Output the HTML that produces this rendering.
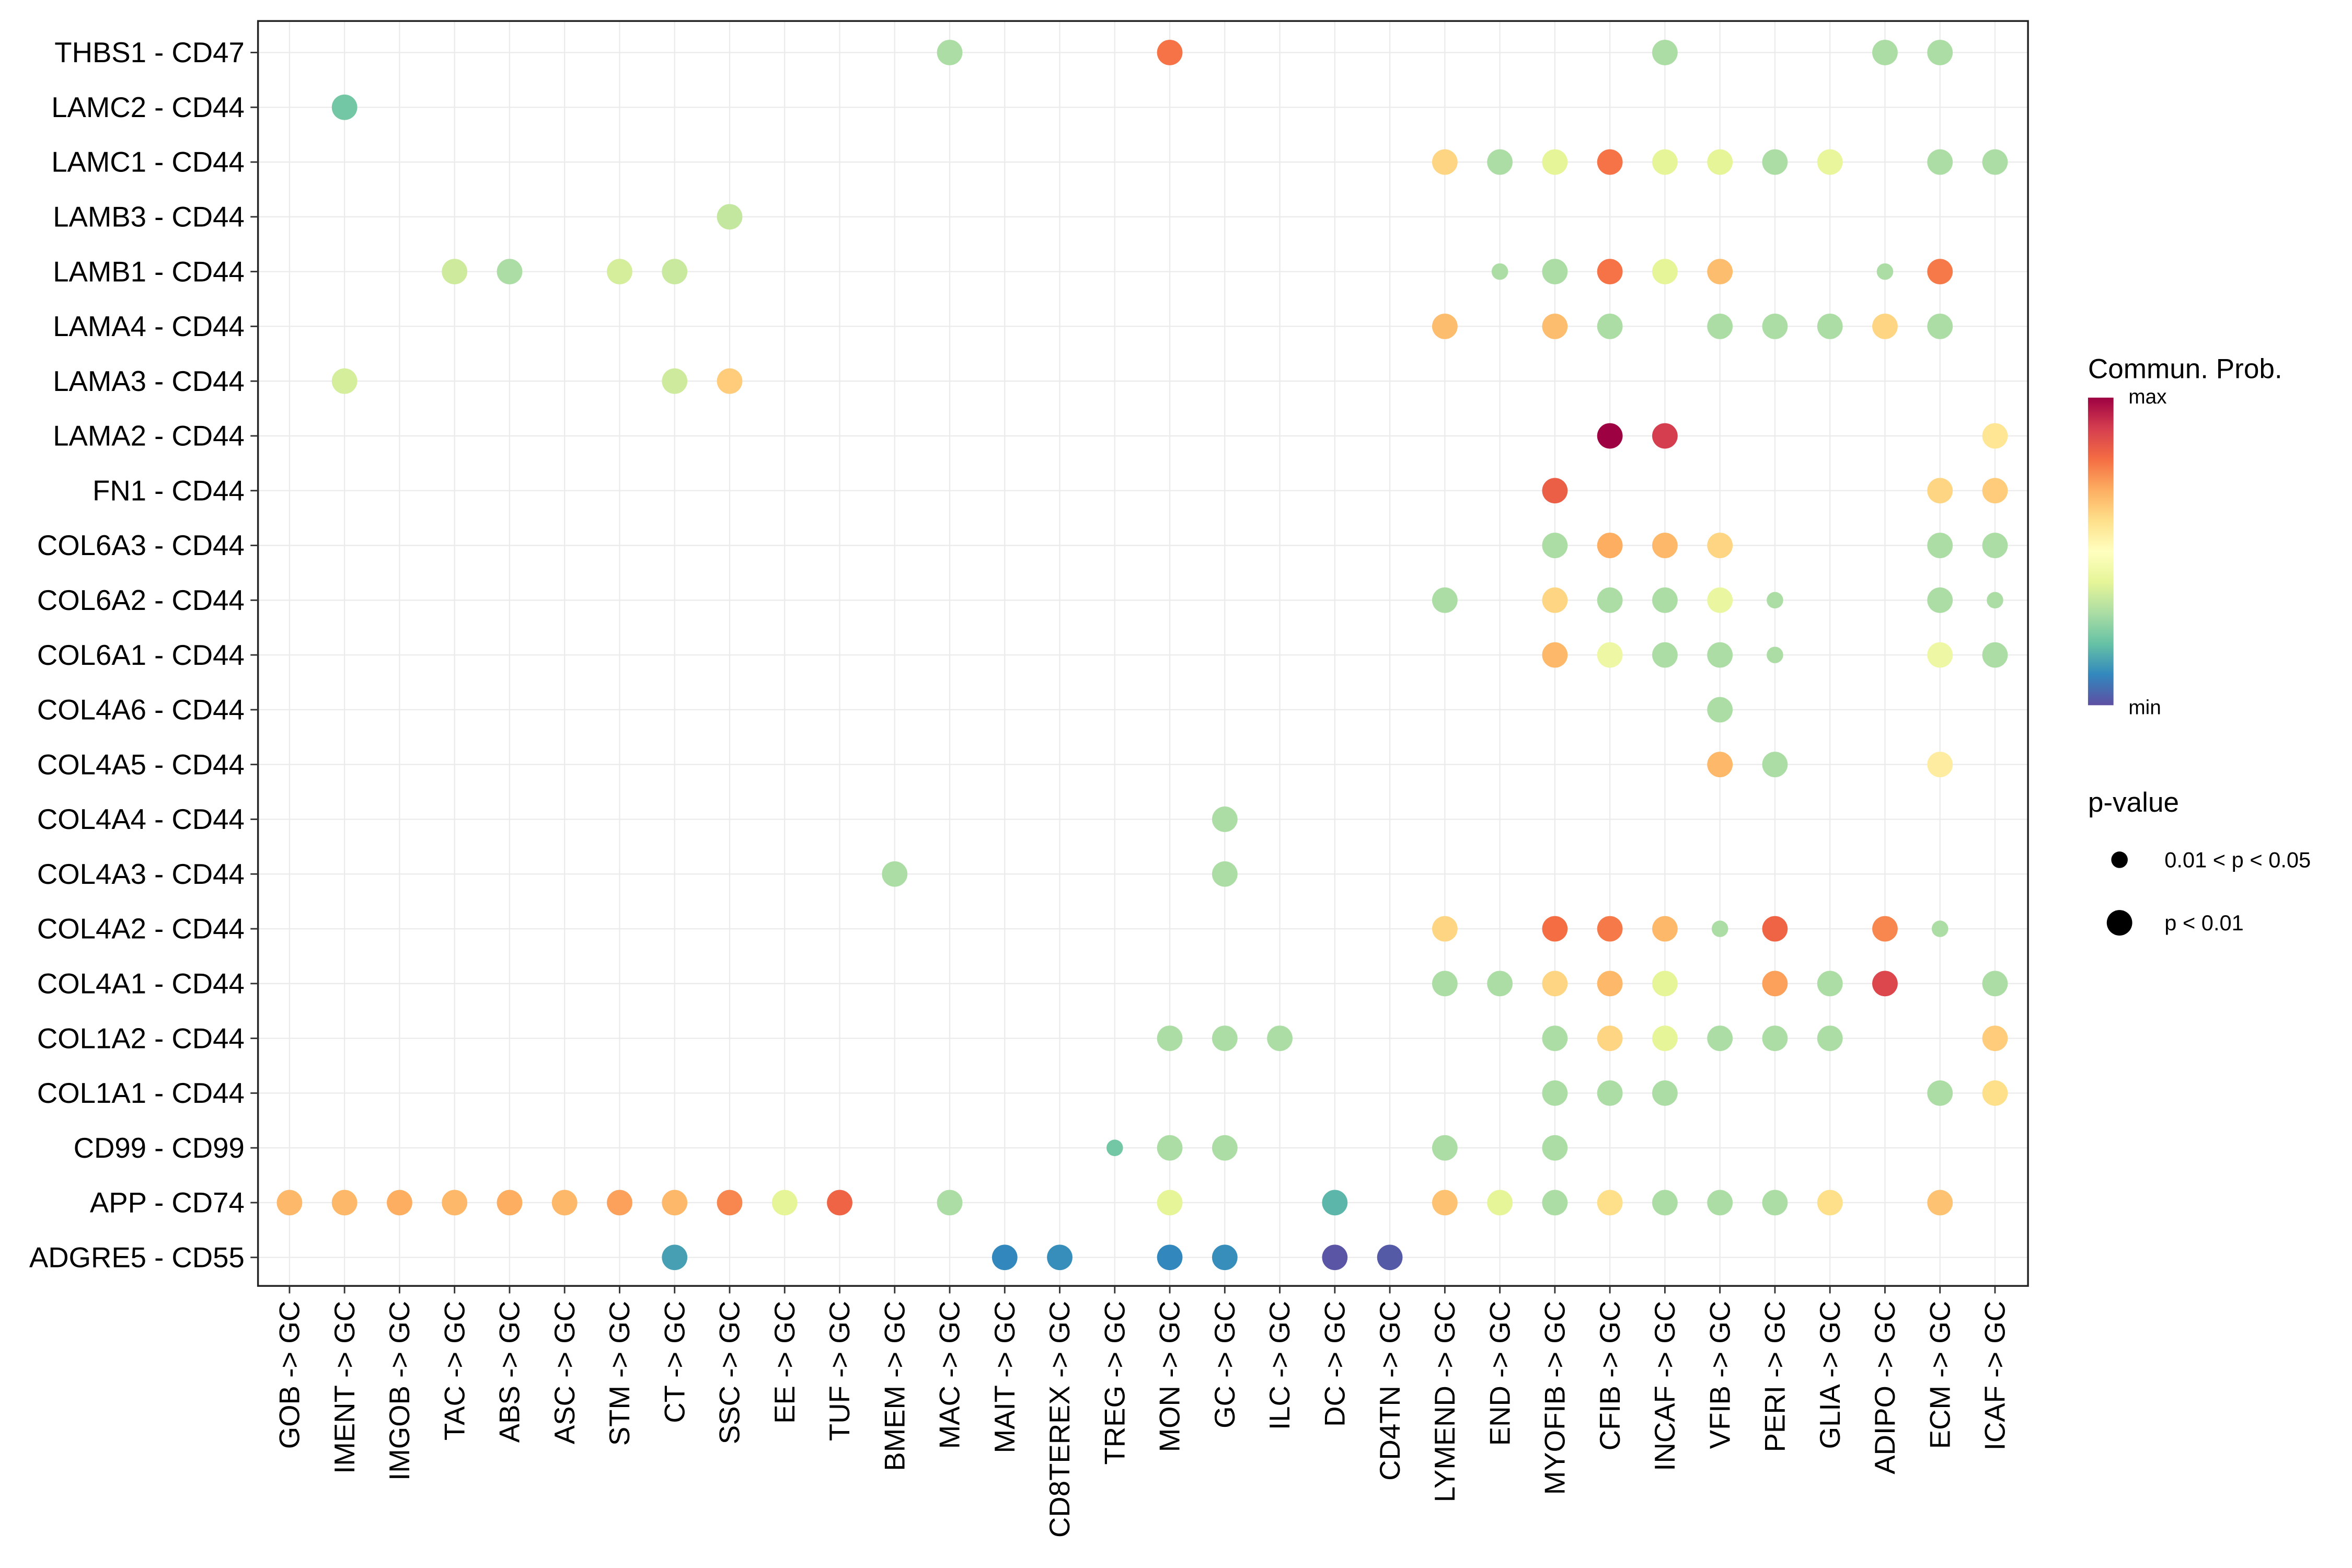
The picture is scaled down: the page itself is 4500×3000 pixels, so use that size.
<!DOCTYPE html>
<html><head><meta charset="utf-8"><style>
html,body{margin:0;padding:0;background:#fff;}
svg{display:block;font-family:"Liberation Sans",Arial,sans-serif;}
</style></head><body>
<svg id="chart" width="4500" height="3000" viewBox="0 0 1568 1045" preserveAspectRatio="none" xmlns="http://www.w3.org/2000/svg">
<defs>
<linearGradient id="cbar" x1="0" y1="1" x2="0" y2="0">
<stop offset="0" stop-color="#5e4fa2"/><stop offset="0.1" stop-color="#3288bd"/><stop offset="0.2" stop-color="#66c2a5"/><stop offset="0.3" stop-color="#abdda4"/><stop offset="0.4" stop-color="#e6f598"/><stop offset="0.5" stop-color="#ffffbf"/><stop offset="0.6" stop-color="#fee08b"/><stop offset="0.7" stop-color="#fdae61"/><stop offset="0.8" stop-color="#f46d43"/><stop offset="0.9" stop-color="#d53e4f"/><stop offset="1" stop-color="#9e0142"/>
</linearGradient>
</defs>
<rect x="0" y="0" width="1568" height="1045" fill="#fff"/>
<g id="grid"></g>
<g id="points"></g>
<rect x="172" y="14" width="1180" height="843" fill="none" stroke="#222" stroke-width="1.2"/>
<g id="yaxis"></g>
<g id="xaxis"></g>
<g>
<text x="1392" y="252" font-size="18.5" fill="#000">Commun. Prob.</text>
<rect x="1392" y="265" width="17" height="205" fill="url(#cbar)"/>
<text x="1419" y="269" font-size="13.5">max</text>
<text x="1419" y="476" font-size="13.5">min</text>
</g>
<g>
<text x="1392" y="541" font-size="18.5">p-value</text>
<circle cx="1413" cy="573" r="5.5" fill="#000"/>
<text x="1443" y="578" font-size="14.5">0.01 &lt; p &lt; 0.05</text>
<circle cx="1413" cy="615" r="8.5" fill="#000"/>
<text x="1443" y="620" font-size="14.5">p &lt; 0.01</text>
</g>
</svg>
<script>
const rows = ["THBS1 - CD47","LAMC2 - CD44","LAMC1 - CD44","LAMB3 - CD44","LAMB1 - CD44","LAMA4 - CD44","LAMA3 - CD44","LAMA2 - CD44","FN1 - CD44","COL6A3 - CD44","COL6A2 - CD44","COL6A1 - CD44","COL4A6 - CD44","COL4A5 - CD44","COL4A4 - CD44","COL4A3 - CD44","COL4A2 - CD44","COL4A1 - CD44","COL1A2 - CD44","COL1A1 - CD44","CD99 - CD99","APP - CD74","ADGRE5 - CD55"];
const cols = ["GOB","IMENT","IMGOB","TAC","ABS","ASC","STM","CT","SSC","EE","TUF","BMEM","MAC","MAIT","CD8TEREX","TREG","MON","GC","ILC","DC","CD4TN","LYMEND","END","MYOFIB","CFIB","INCAF","VFIB","PERI","GLIA","ADIPO","ECM","ICAF"];
// each point: [rowIndex, colIndex, prob (0=min..1=max), significant(1 = p<0.01)]
const pointRow = [0,0,0,0,0, 1, 2,2,2,2,2,2,2,2,2,2, 3, 4,4,4,4,4,4,4,4,4,4,4, 5,5,5,5,5,5,5,5, 6,6,6, 7,7,7, 8,8,8, 9,9,9,9,9,9, 10,10,10,10,10,10,10,10, 11,11,11,11,11,11,11, 12, 13,13,13, 14, 15,15, 16,16,16,16,16,16,16,16, 17,17,17,17,17,17,17,17,17, 18,18,18,18,18,18,18,18,18,18, 19,19,19,19,19, 20,20,20,20,20, 21,21,21,21,21,21,21,21,21,21,21,21,21,21,21,21,21,21,21,21,21,21,21, 22,22,22,22,22,22,22];
const pointCol = [12,16,25,29,30, 1, 21,22,23,24,25,26,27,28,30,31, 8, 3,4,6,7,22,23,24,25,26,29,30, 21,23,24,26,27,28,29,30, 1,7,8, 24,25,31, 23,30,31, 23,24,25,26,30,31, 21,23,24,25,26,27,30,31, 23,24,25,26,27,30,31, 26, 26,27,30, 17, 11,17, 21,23,24,25,26,27,29,30, 21,22,23,24,25,27,28,29,31, 16,17,18,23,24,25,26,27,28,31, 23,24,25,30,31, 15,16,17,21,23, 0,1,2,3,4,5,6,7,8,9,10,12,16,19,21,22,23,24,25,26,27,28,30, 7,13,14,16,17,19,20];
const pointProb = [0.3,0.79,0.3,0.3,0.3, 0.22, 0.62,0.3,0.4,0.79,0.4,0.4,0.3,0.41,0.3,0.3, 0.34, 0.36,0.3,0.37,0.35,0.3,0.3,0.79,0.4,0.67,0.3,0.78, 0.67,0.67,0.3,0.3,0.3,0.3,0.62,0.3, 0.37,0.36,0.64, 1.0,0.9,0.58, 0.83,0.62,0.64, 0.3,0.7,0.68,0.62,0.3,0.3, 0.3,0.62,0.3,0.3,0.42,0.3,0.3,0.3, 0.68,0.43,0.3,0.3,0.3,0.43,0.3, 0.3, 0.68,0.3,0.56, 0.3, 0.3,0.3, 0.62,0.8,0.78,0.68,0.3,0.82,0.76,0.3, 0.3,0.3,0.62,0.68,0.4,0.72,0.3,0.88,0.3, 0.3,0.3,0.3,0.3,0.62,0.4,0.3,0.3,0.3,0.64, 0.3,0.3,0.3,0.3,0.6, 0.22,0.3,0.3,0.3,0.3, 0.68,0.68,0.7,0.68,0.7,0.68,0.72,0.68,0.76,0.4,0.82,0.3,0.4,0.18,0.66,0.4,0.3,0.6,0.3,0.3,0.3,0.6,0.66, 0.14,0.1,0.11,0.1,0.11,0.01,0.02];
const pointSig = [1,1,1,1,1, 1, 1,1,1,1,1,1,1,1,1,1, 1, 1,1,1,1,0,1,1,1,1,0,1, 1,1,1,1,1,1,1,1, 1,1,1, 1,1,1, 1,1,1, 1,1,1,1,1,1, 1,1,1,1,1,0,1,0, 1,1,1,1,0,1,1, 1, 1,1,1, 1, 1,1, 1,1,1,1,0,1,1,0, 1,1,1,1,1,1,1,1,1, 1,1,1,1,1,1,1,1,1,1, 1,1,1,1,1, 0,1,1,1,1, 1,1,1,1,1,1,1,1,1,1,1,1,1,1,1,1,1,1,1,1,1,1,1, 1,1,1,1,1,1,1];

const NS="http://www.w3.org/2000/svg";
const x0=193, dx=(1330-193)/31, y0=35, dy=(838-35)/22;
function xs(c){return x0+c*dx;}
function ys(r){return y0+r*dy;}
const stops=["#5e4fa2","#3288bd","#66c2a5","#abdda4","#e6f598","#ffffbf","#fee08b","#fdae61","#f46d43","#d53e4f","#9e0142"];
function hex(h){return [1,3,5].map(i=>parseInt(h.substr(i,2),16));}
function color(t){t=Math.max(0,Math.min(1,t))*10;const i=Math.min(9,Math.floor(t)),f=t-i;const a=hex(stops[i]),b=hex(stops[i+1]);return "rgb("+a.map((v,k)=>Math.round(v+(b[k]-v)*f)).join(",")+")";}
function mk(tag,attrs,parent){const e=document.createElementNS(NS,tag);for(const k in attrs)e.setAttribute(k,attrs[k]);parent.appendChild(e);return e;}
const grid=document.getElementById('grid'),pts=document.getElementById('points'),ya=document.getElementById('yaxis'),xa=document.getElementById('xaxis');
rows.forEach((r,i)=>{
  const l=mk('line',{x1:172,x2:1352,y1:ys(i),y2:ys(i),stroke:'#ebebeb','stroke-width':0.8},grid);
  
  
  const t=mk('line',{x1:167,x2:172,y1:ys(i),y2:ys(i),stroke:'#333','stroke-width':1},ya);
  
  
  const tx=mk('text',{x:163,y:ys(i)+6.5,'text-anchor':'end','font-size':19,fill:'#000'},ya);
  tx.textContent=r;
  
  
});
cols.forEach((c,j)=>{
  const l=mk('line',{x1:xs(j),x2:xs(j),y1:14,y2:857,stroke:'#ebebeb','stroke-width':0.8},grid);
  
  
  const t=mk('line',{x1:xs(j),x2:xs(j),y1:857,y2:862,stroke:'#333','stroke-width':1},xa);
  
  
  const tx=mk('text',{x:0,y:0,'text-anchor':'end','font-size':19,fill:'#000',transform:'translate('+(xs(j)+6.5)+',867) rotate(-90)'},xa);
  tx.textContent=c+" -> GC";
  
  
});
pointRow.forEach((r,i)=>{
  const c=mk('circle',{cx:xs(pointCol[i]),cy:ys(r),r:pointSig[i]?8.5:5.5,fill:color(pointProb[i])},pts);
  
  
});
</script>
</body></html>
